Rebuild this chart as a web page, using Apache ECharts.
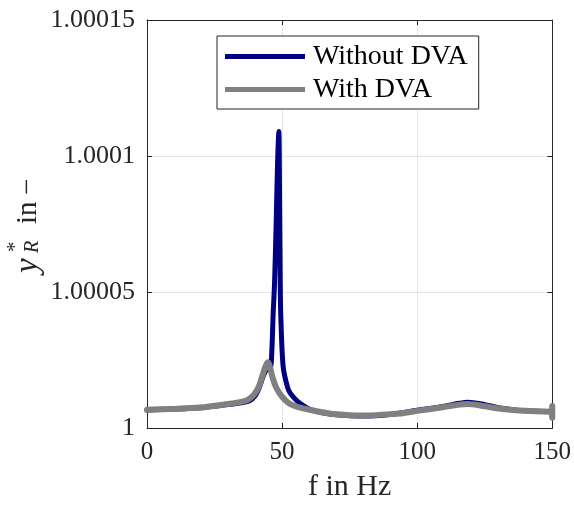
<!DOCTYPE html>
<html>
<head>
<meta charset="utf-8">
<script src="https://cdn.jsdelivr.net/npm/echarts@6/dist/echarts.min.js"></script>
<style>
html,body{margin:0;padding:0;background:#fff;}
#chart{width:574px;height:507px;}
</style>
</head>
<body>
<div id="chart"></div>
<script>
// Frequencies (Hz) and response values
var fWithout = [0, 10, 20, 30, 35, 38, 40, 41.6, 43, 44.5, 45.7, 46.2, 46.7, 47.2, 47.8, 48.4, 48.8, 49.1, 49.3, 49.5, 50.4, 52, 53, 55, 57, 60, 64, 70, 80, 90, 100, 110, 115, 118.7, 125, 130, 140, 150, 150, 150];
var yWithout = [1.0000066, 1.0000069, 1.0000074, 1.0000086, 1.0000093, 1.0000100, 1.0000118, 1.0000150, 1.0000190, 1.0000218, 1.0000222, 1.0000280, 1.0000420, 1.0000530, 1.0000750, 1.0001000, 1.0001090, 1.0000800, 1.0000550, 1.0000420, 1.0000225, 1.0000150, 1.0000128, 1.0000105, 1.0000088, 1.0000070, 1.0000058, 1.0000049, 1.0000044, 1.0000050, 1.0000065, 1.0000080, 1.0000090, 1.0000095, 1.0000086, 1.0000075, 1.0000063, 1.0000060, 1.0000079, 1.0000040];
var fWith = [0, 8.5, 19.6, 30, 34.4, 36.5, 38, 40, 41.6, 42.9, 44, 44.8, 45.5, 46.5, 47.9, 50, 52.8, 56, 60.2, 67.6, 75, 80, 90, 93.5, 100, 110, 115, 118.7, 125, 130, 140, 150, 150, 150];
var yWith = [1.0000067, 1.0000070, 1.0000075, 1.0000088, 1.0000095, 1.0000100, 1.0000108, 1.0000128, 1.0000158, 1.0000198, 1.0000230, 1.0000242, 1.0000225, 1.0000185, 1.0000147, 1.0000115, 1.0000089, 1.0000077, 1.0000067, 1.0000053, 1.0000047, 1.0000046, 1.0000051, 1.0000053, 1.0000063, 1.0000077, 1.0000085, 1.0000088, 1.0000080, 1.0000072, 1.0000063, 1.0000060, 1.0000081, 1.0000038];
var seriesNames = ['Without DVA', 'With DVA'];
var yTickLabels = {'1': '1', '1.00005': '1.00005', '1.0001': '1.0001', '1.00015': '1.00015'};

function pairs(xs, ys) { return xs.map(function (x, i) { return [x, ys[i]]; }); }

var serif = '"Liberation Serif", "DejaVu Serif", serif';
var axisColor = '#262626';

var chart = echarts.init(document.getElementById('chart'), null, {renderer: 'canvas'});
var option = {
  backgroundColor: '#ffffff',
  animation: false,
  grid: {left: 147, right: 21, top: 20, bottom: 77, containLabel: false},
  legend: {
    show: true,
    data: seriesNames,
    orient: 'vertical',
    left: 217, top: 36,
    align: 'left',
    icon: 'rect',
    itemWidth: 80, itemHeight: 5,
    itemGap: 4,
    padding: [6, 11, 5, 8],
    borderColor: axisColor, borderWidth: 1,
    backgroundColor: '#fff',
    textStyle: {fontFamily: serif, fontSize: 28, color: '#000', lineHeight: 29, padding: [0, 0, 0, 3]}
  },
  xAxis: [{
    type: 'value', min: 0, max: 150, interval: 50,
    name: 'f in Hz', nameLocation: 'middle', nameGap: 44,
    nameTextStyle: {fontFamily: serif, fontSize: 30, color: '#262626'},
    axisLine: {show: true, onZero: false, lineStyle: {color: axisColor, width: 1}},
    axisTick: {show: true, inside: true, length: 5, lineStyle: {color: axisColor}},
    axisLabel: {fontFamily: serif, fontSize: 25, color: '#262626', margin: 12},
    splitLine: {show: true, lineStyle: {color: '#e6e6e6', width: 1}}
  }, {
    type: 'value', min: 0, max: 150, interval: 50, position: 'top',
    axisLine: {show: true, onZero: false, lineStyle: {color: axisColor, width: 1}},
    axisTick: {show: true, inside: true, length: 5, lineStyle: {color: axisColor}},
    axisLabel: {show: false}, splitLine: {show: false}
  }],
  yAxis: [{
    type: 'value', min: 1, max: 1.00015, interval: 0.00005,
    axisLine: {show: true, onZero: false, lineStyle: {color: axisColor, width: 1}},
    axisTick: {show: true, inside: true, length: 5, lineStyle: {color: axisColor}},
    axisLabel: {fontFamily: serif, fontSize: 26, color: '#262626', margin: 12,
      formatter: function (v) { var k = String(+v.toFixed(5)); return yTickLabels[k] !== undefined ? yTickLabels[k] : k; }},
    splitLine: {show: true, lineStyle: {color: '#e6e6e6', width: 1}}
  }, {
    type: 'value', min: 1, max: 1.00015, interval: 0.00005, position: 'right',
    axisLine: {show: true, onZero: false, lineStyle: {color: axisColor, width: 1}},
    axisTick: {show: true, inside: true, length: 5, lineStyle: {color: axisColor}},
    axisLabel: {show: false}, splitLine: {show: false}
  }],
  series: [{
    name: seriesNames[0], type: 'line', data: pairs(fWithout, yWithout),
    showSymbol: false, smooth: 0.3, clip: false,
    itemStyle: {color: '#000080'},
    lineStyle: {color: '#000080', width: 5, cap: 'round', join: 'round'}
  }, {
    name: seriesNames[1], type: 'line', data: pairs(fWith, yWith),
    showSymbol: false, smooth: 0.3, clip: false,
    itemStyle: {color: '#808080'},
    lineStyle: {color: '#808080', width: 6, cap: 'round', join: 'round'}
  }],
  graphic: [{
    type: 'group', x: 28, y: 279, rotation: Math.PI / 2,
    children: [
      {type: 'text', x: 6, y: 0, style: {text: 'y', font: 'italic 33px ' + serif, fill: '#262626', textAlign: 'left', textVerticalAlign: 'middle'}},
      {type: 'text', x: 27, y: -13, style: {text: '*', font: '21px ' + serif, fill: '#262626', textAlign: 'left', textVerticalAlign: 'middle'}},
      {type: 'text', x: 26, y: 5, style: {text: 'R', font: 'italic 20px ' + serif, fill: '#262626', textAlign: 'left', textVerticalAlign: 'middle'}},
      {type: 'text', x: 55, y: 0, style: {text: 'in', font: '29px ' + serif, fill: '#262626', textAlign: 'left', textVerticalAlign: 'middle'}},
      {type: 'text', x: 84, y: 0, style: {text: '\u2212', font: '29px ' + serif, fill: '#262626', textAlign: 'left', textVerticalAlign: 'middle'}}
    ]
  }]
};
chart.setOption(option);
</script>
</body>
</html>
